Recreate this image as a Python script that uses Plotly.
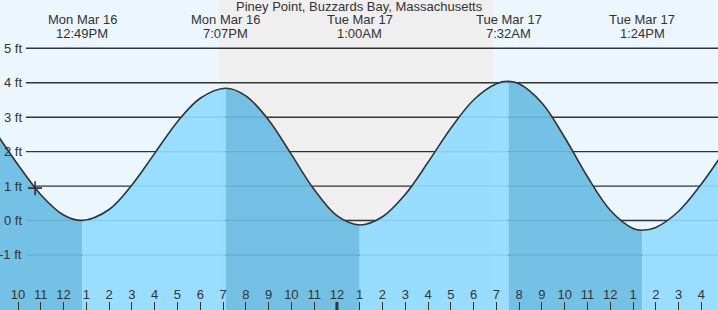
import plotly.graph_objects as go

# ---------------- data ----------------
TITLE = "Piney Point, Buzzards Bay, Massachusetts"

# hours since Mon Mar 16 00:00, and tide height (ft)
TIDE_HOURS = [9.0, 10, 11, 12, 12.817, 14, 15, 16, 17, 18, 19.117,
              20, 21, 22, 23, 24, 25.0, 26, 27, 28, 29, 30, 31, 31.533,
              32, 33, 34, 35, 36, 37, 37.4, 38, 39, 40, 41]
TIDE_FT = [2.58, 1.62, 0.75, 0.16, 0.00, 0.32, 1.03, 1.95, 2.87, 3.55, 3.84,
           3.62, 2.92, 1.92, 0.90, 0.14, -0.13, 0.11, 0.76, 1.69, 2.68, 3.50, 3.97, 4.04,
           3.97, 3.41, 2.41, 1.27, 0.30, -0.23, -0.28, -0.20, 0.27, 1.06, 2.01]

# high / low tide events
EVENT_HOURS = [12.817, 19.117, 25.0, 31.533, 37.4]
EVENT_DAYS = ["Mon Mar 16", "Mon Mar 16", "Tue Mar 17", "Tue Mar 17", "Tue Mar 17"]
EVENT_TIMES = ["12:49PM", "7:07PM", "1:00AM", "7:32AM", "1:24PM"]

# night (sunset -> sunrise)
NIGHT_START = 18.82
NIGHT_END = 30.85

# current time marker
NOW_HOUR = [10.75]
NOW_FT = [0.94]

MIDNIGHT = 24

X_TICK_VALS = list(range(10, 41))
X_TICK_TEXT = ["10", "11", "12", "1", "2", "3", "4", "5", "6", "7", "8", "9", "10", "11", "12",
               "1", "2", "3", "4", "5", "6", "7", "8", "9", "10", "11", "12",
               "1", "2", "3", "4"]

Y_TICK_VALS = [5, 4, 3, 2, 1, 0, -1]
Y_TICK_TEXT = ["5 ft", "4 ft", "3 ft", "2 ft", "1 ft", "0 ft", "-1 ft"]

X_RANGE = [9.2098, 40.729]
Y_RANGE = [-2.597, 6.402]
BASE_FT = -3.0

# ---------------- style ----------------
W, H = 718, 310
FONT = "Liberation Sans, Arial, sans-serif"
TXT = "#333333"
DAY_BG = "#ecf6ff"
NIGHT_BG = "#efefef"
LIGHT_FILL = "rgba(145,219,255,0.92)"
DARK_FILL = "rgba(104,188,227,0.92)"

fig = go.Figure()

# split the curve into segments at each high/low event
bounds = [TIDE_HOURS[0]] + EVENT_HOURS + [TIDE_HOURS[-1]]
for i in range(len(bounds) - 1):
    a, b = bounds[i], bounds[i + 1]
    xs = [t for t in TIDE_HOURS if a <= t <= b]
    ys = [h for t, h in zip(TIDE_HOURS, TIDE_FT) if a <= t <= b]
    falling = ys[-1] < ys[0]
    fig.add_trace(go.Scatter(x=[xs[0], xs[-1]], y=[BASE_FT, BASE_FT], mode="lines",
                             line=dict(width=0), hoverinfo="skip", showlegend=False))
    fig.add_trace(go.Scatter(x=xs, y=ys, mode="lines", fill="tonexty",
                             fillcolor=DARK_FILL if falling else LIGHT_FILL,
                             line=dict(width=0, shape="spline"), hoverinfo="skip",
                             showlegend=False))

# outline
fig.add_trace(go.Scatter(x=TIDE_HOURS, y=TIDE_FT, mode="lines",
                         line=dict(color=TXT, width=1.6, shape="spline"),
                         showlegend=False, hoverinfo="skip"))

# now marker
fig.add_trace(go.Scatter(x=NOW_HOUR, y=NOW_FT, mode="markers",
                         marker=dict(symbol="cross-thin", size=10,
                                     line=dict(color=TXT, width=1.6)),
                         showlegend=False, hoverinfo="skip"))

shapes = [dict(type="rect", xref="x", yref="paper", x0=NIGHT_START, x1=NIGHT_END,
               y0=0, y1=1, fillcolor=NIGHT_BG, line=dict(width=0), layer="below")]
for v in Y_TICK_VALS:
    shapes.append(dict(type="line", xref="paper", yref="y", x0=26 / W, x1=1, y0=v, y1=v,
                       line=dict(color=TXT, width=1.4), layer="below"))
shapes.append(dict(type="line", xref="x", yref="paper", x0=MIDNIGHT, x1=MIDNIGHT,
                   y0=0, y1=8 / H, line=dict(color=TXT, width=3), layer="above"))

annotations = [dict(text=TITLE, xref="paper", yref="paper", x=0.5, y=1 - 6 / H,
                    xanchor="center", yanchor="middle", showarrow=False,
                    font=dict(size=13, color=TXT, family=FONT))]
for t, d, tm in zip(EVENT_HOURS, EVENT_DAYS, EVENT_TIMES):
    annotations.append(dict(text=d, xref="x", yref="paper", x=t, y=1 - 19.5 / H,
                            xanchor="center", yanchor="middle", showarrow=False, height=12,
                            font=dict(size=13, color=TXT, family=FONT)))
    annotations.append(dict(text=tm, xref="x", yref="paper", x=t, y=1 - 32.5 / H,
                            xanchor="center", yanchor="middle", showarrow=False, height=12,
                            font=dict(size=13, color=TXT, family=FONT)))
for v, s in zip(Y_TICK_VALS, Y_TICK_TEXT):
    annotations.append(dict(text=s, xref="paper", yref="y", x=24 / W, y=v,
                            xanchor="right", yanchor="middle", showarrow=False,
                            font=dict(size=13, color=TXT, family=FONT)))

fig.update_layout(
    width=W, height=H, margin=dict(l=0, r=0, t=0, b=0, pad=0),
    paper_bgcolor=DAY_BG, plot_bgcolor=DAY_BG,
    font=dict(family=FONT, size=13, color=TXT),
    shapes=shapes, annotations=annotations, showlegend=False,
    xaxis=dict(range=X_RANGE, showgrid=False, zeroline=False, showline=False,
               tickmode="array", tickvals=X_TICK_VALS, ticktext=X_TICK_TEXT,
               ticks="inside", ticklen=8, tickwidth=1, tickcolor=TXT,
               ticklabelposition="inside", tickfont=dict(size=13, color=TXT),
               fixedrange=True),
    yaxis=dict(range=Y_RANGE, showgrid=False, zeroline=False, showline=False,
               showticklabels=False, ticks="", fixedrange=True),
)

fig.write_html("out.html", config={"displayModeBar": False})
